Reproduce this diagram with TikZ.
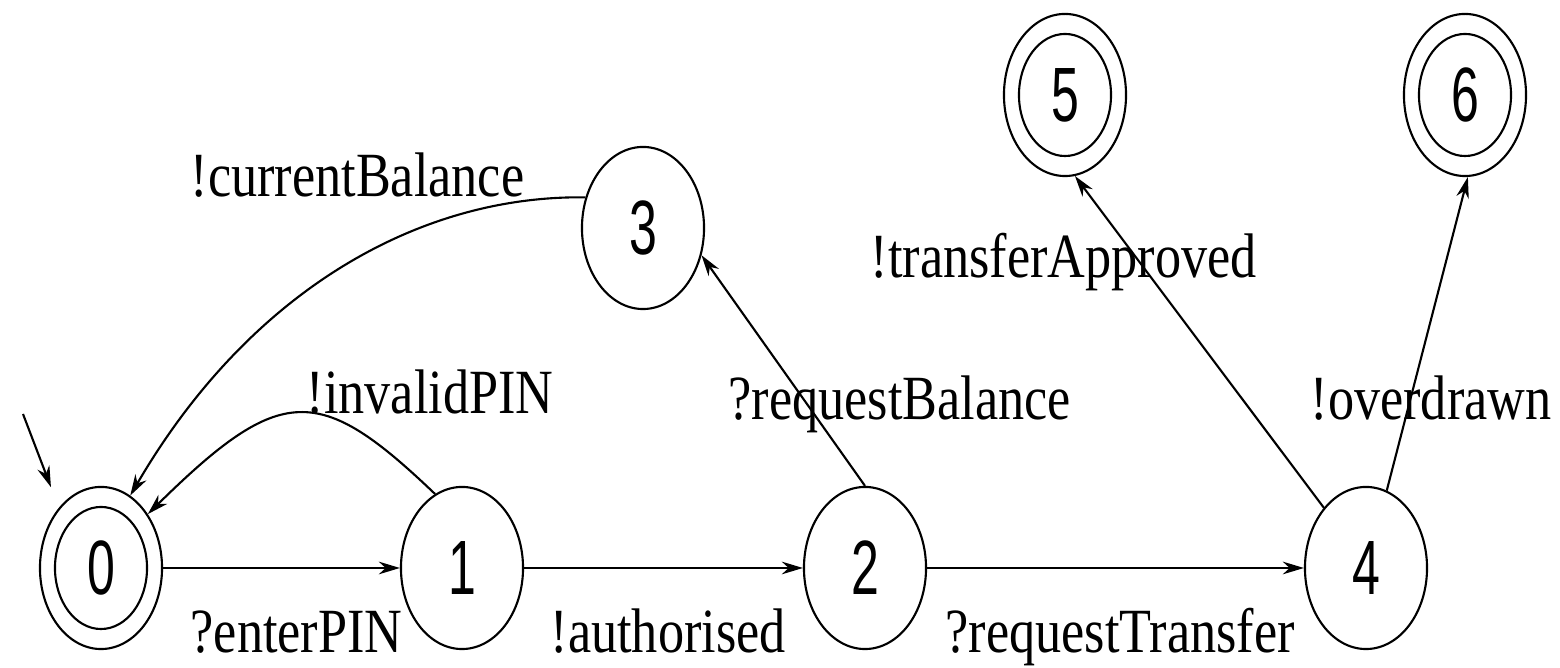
\documentclass[tikz,border=0pt]{standalone}
\usepackage{fontspec}
\setmainfont{Liberation Serif}
\newfontfamily\statefont{Liberation Sans}
\usetikzlibrary{shapes.geometric,arrows.meta}
% condensed text for labels and state numbers
\newcommand\lbltext[1]{\scalebox{0.83}[1]{#1}}
\newcommand\stnum[1]{\scalebox{0.65}[1]{#1}}

\begin{document}
\begin{tikzpicture}[x=0.01cm,y=-0.01cm,
  state/.style={draw,ellipse,line width=0.6pt,minimum width=1.22cm,
    minimum height=1.62cm,inner sep=0pt,
    font=\statefont\fontsize{21.9pt}{24pt}\selectfont},
  inner ring/.style={line width=0.6pt},
  lbl/.style={inner sep=0pt,anchor=base west,
    font=\fontsize{17.9pt}{20pt}\selectfont},
  arr/.style={line width=0.6pt,-{Stealth[length=6pt,width=3.6pt]}}]

\useasboundingbox (0,0) rectangle (1560,668);

% states
\node[state] (n0) at (101,568) {\stnum{0}};
\node[state] (n1) at (462,568) {\stnum{1}};
\node[state] (n2) at (865,568) {\stnum{2}};
\node[state] (n3) at (643,228) {\stnum{3}};
\node[state] (n4) at (1366,568) {\stnum{4}};
\node[state] (n5) at (1065,95) {\stnum{5}};
\node[state] (n6) at (1465,95) {\stnum{6}};

% accepting states get an inner ring
\foreach \s in {n0,n5,n6}
  \draw[inner ring] (\s.center) ellipse [x radius=0.46cm, y radius=0.61cm];

% initial marker
\coordinate (init) at (23,414);
\draw[arr,shorten >=0.22cm] (init) -- (n0.125);

% transitions
\draw[arr] (n0) -- (n1);
\draw[arr] (n1) -- (n2);
\draw[arr] (n2) -- (n4);
\draw[arr] (n1.110) .. controls (319,383) and (281,383) .. (n0.49);
\draw[arr] (n3.152) .. controls (420,195) and (250,290) .. (n0.68);
\draw[arr] (n2.north) -- (n3.-25);
\draw[arr] (n4.125) -- (n5.-83);
\draw[arr] (n4.75) -- (n6.-88);

% transition labels
\node[lbl] (l01) at (190,653) {\lbltext{?enterPIN}};
\node[lbl] (l12) at (550,653) {\lbltext{!authorised}};
\node[lbl] (l24) at (945,653) {\lbltext{?requestTransfer}};
\node[lbl] (l23) at (728,420) {\lbltext{?requestBalance}};
\node[lbl] (l45) at (870,278) {\lbltext{!transferApproved}};
\node[lbl] (l46) at (1310,420) {\lbltext{!overdrawn}};
\node[lbl] (l10) at (306,414) {\lbltext{!invalidPIN}};
\node[lbl] (l30) at (190,197) {\lbltext{!currentBalance}};
\end{tikzpicture}
\end{document}
